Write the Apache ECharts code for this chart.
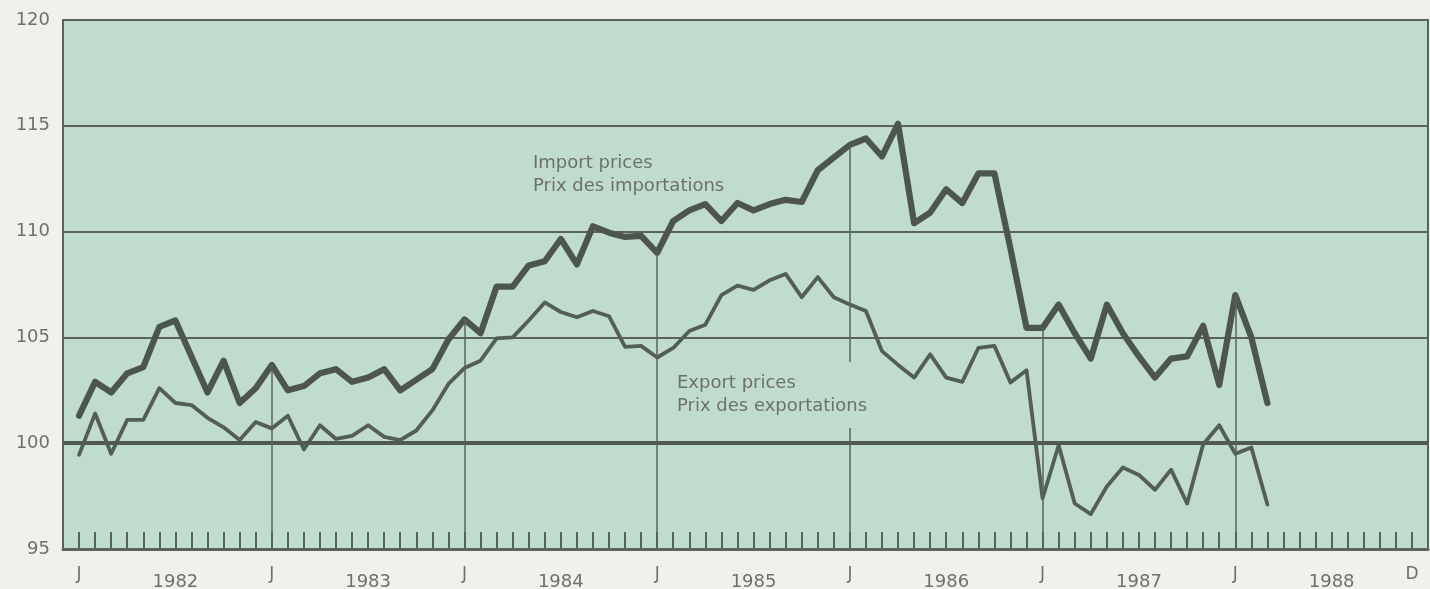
<!DOCTYPE html>
<html>
<head>
<meta charset="utf-8">
<script src="https://cdn.jsdelivr.net/npm/echarts@6/dist/echarts.min.js"></script>
<style>
html,body{margin:0;padding:0;background:#f1f1ec;}
#chart{width:1430px;height:589px;}
</style>
</head>
<body>
<div id="chart"></div>
<script>
// Month index 0 = January 1982; data run Jan 1982 .. Mar 1988
const importPrices = [
  101.3, 102.9, 102.4, 103.3, 103.6, 105.5, 105.8, 104.1, 102.4, 103.9, 101.9, 102.6,
  103.7, 102.5, 102.7, 103.3, 103.5, 102.9, 103.1, 103.5, 102.5, 103.0, 103.5, 104.9,
  105.85, 105.2, 107.4, 107.4, 108.4, 108.6, 109.65, 108.45, 110.25, 109.95, 109.75, 109.8,
  109.0, 110.5, 111.0, 111.3, 110.5, 111.35, 111.0, 111.3, 111.5, 111.4, 112.9, 113.5,
  114.1, 114.4, 113.55, 115.1, 110.4, 110.9, 112.0, 111.35, 112.75, 112.75, 109.2, 105.45,
  105.45, 106.55, 105.2, 104.0, 106.55, 105.2, 104.1, 103.1, 104.0, 104.1, 105.55, 102.75,
  107.0, 105.0, 101.9
];
const exportPrices = [
  99.45, 101.4, 99.5, 101.1, 101.1, 102.6, 101.9, 101.8, 101.2, 100.75, 100.15, 101.0,
  100.7, 101.3, 99.7, 100.85, 100.2, 100.35, 100.85, 100.3, 100.15, 100.6, 101.55, 102.8,
  103.55, 103.9, 104.95, 105.0, 105.8, 106.65, 106.2, 105.95, 106.25, 106.0, 104.55, 104.6,
  104.05, 104.5, 105.3, 105.6, 107.0, 107.45, 107.25, 107.7, 108.0, 106.9, 107.85, 106.9,
  106.55, 106.25, 104.35, 103.7, 103.1, 104.2, 103.1, 102.9, 104.5, 104.6, 102.87, 103.45,
  97.4, 99.9, 97.15, 96.65, 97.95, 98.85, 98.5, 97.8, 98.75, 97.15, 99.95, 100.85,
  99.5, 99.8, 97.1
];
const years = ['1982', '1983', '1984', '1985', '1986', '1987', '1988'];
const monthTicks = Array.from({length: 84}, (_, i) => i);          // Jan 1982 .. Dec 1988
const januaryIdx = years.map((_, k) => k * 12);                     // J labels
const lastMonthIdx = 83;                                            // D label
const yearLabelIdx = years.map((_, k) => k * 12 + 6);               // year label centres
const yTicks = [95, 100, 105, 110, 115, 120];

const FONT = '"DejaVu Sans", sans-serif';
const TXT = '#6c716d';
const INK = '#58635c';
const PLOT = '#c0dccd';

const chart = echarts.init(document.getElementById('chart'), null, {renderer: 'canvas'});

const janLines = januaryIdx.filter(i => i > 0 && i < importPrices.length).map(i => [
  {coord: [i, 95]}, {coord: [i, importPrices[i]]}
]);

chart.setOption({
  animation: false,
  backgroundColor: '#f1f1ec',
  grid: {
    left: 63, right: 2, top: 20, bottom: 40,
    outerBoundsMode: 'none', containLabel: false,
    show: true, backgroundColor: PLOT, borderColor: INK, borderWidth: 2
  },
  xAxis: [{
    type: 'value', min: -1, max: 84,
    axisLine: {show: true, onZero: false, lineStyle: {color: INK, width: 3}},
    axisTick: {show: true, inside: true, length: 17, customValues: monthTicks,
               lineStyle: {color: INK, width: 2}},
    axisLabel: {show: true, customValues: januaryIdx.concat([lastMonthIdx]), margin: 17,
                formatter: v => (v === lastMonthIdx ? 'D' : 'J'),
                color: TXT, fontFamily: FONT, fontSize: 17},
    splitLine: {show: false}
  }, {
    type: 'value', min: -1, max: 84, position: 'bottom',
    axisLine: {show: false}, axisTick: {show: false}, splitLine: {show: false},
    axisLabel: {show: true, customValues: yearLabelIdx, margin: 24,
                formatter: v => years[(v - 6) / 12],
                color: TXT, fontFamily: FONT, fontSize: 18}
  }],
  yAxis: {
    type: 'value', min: 95, max: 120, interval: 5,
    axisLine: {show: false},
    axisTick: {show: false},
    axisLabel: {margin: 13, color: TXT, fontFamily: FONT, fontSize: 18,
                customValues: yTicks},
    splitLine: {show: true, lineStyle: {color: INK, width: 2}}
  },
  series: [{
    name: 'guides', type: 'line', silent: true, z: 1,
    data: importPrices.map((v, i) => [i, v]),
    symbol: 'none', lineStyle: {opacity: 0},
    markLine: {
      silent: true, symbol: 'none', animation: false,
      label: {show: false},
      lineStyle: {color: INK, width: 1.5, type: 'solid'},
      data: [{yAxis: 100, lineStyle: {color: '#4f5a53', width: 4}}].concat(janLines)
    }
  }, {
    name: 'Export prices', type: 'line', z: 3,
    data: exportPrices.map((v, i) => [i, v]),
    symbol: 'none',
    lineStyle: {color: '#535e57', width: 3.8, join: 'round', cap: 'round'}
  }, {
    name: 'Import prices', type: 'line', z: 4,
    data: importPrices.map((v, i) => [i, v]),
    symbol: 'none',
    lineStyle: {color: '#4d5550', width: 6.2, join: 'round', cap: 'round'}
  }],
  graphic: [{
    type: 'text', left: 533, top: 152, z: 10, silent: true,
    style: {text: 'Import prices\nPrix des importations', fill: TXT,
            font: '18px ' + FONT, lineHeight: 23}
  }, {
    type: 'text', left: 671, top: 362, z: 10, silent: true,
    style: {text: 'Export prices\nPrix des exportations', fill: TXT,
            font: '18px ' + FONT, lineHeight: 23,
            backgroundColor: PLOT, padding: [10, 6, 10, 6]}
  }]
});
</script>
</body>
</html>
